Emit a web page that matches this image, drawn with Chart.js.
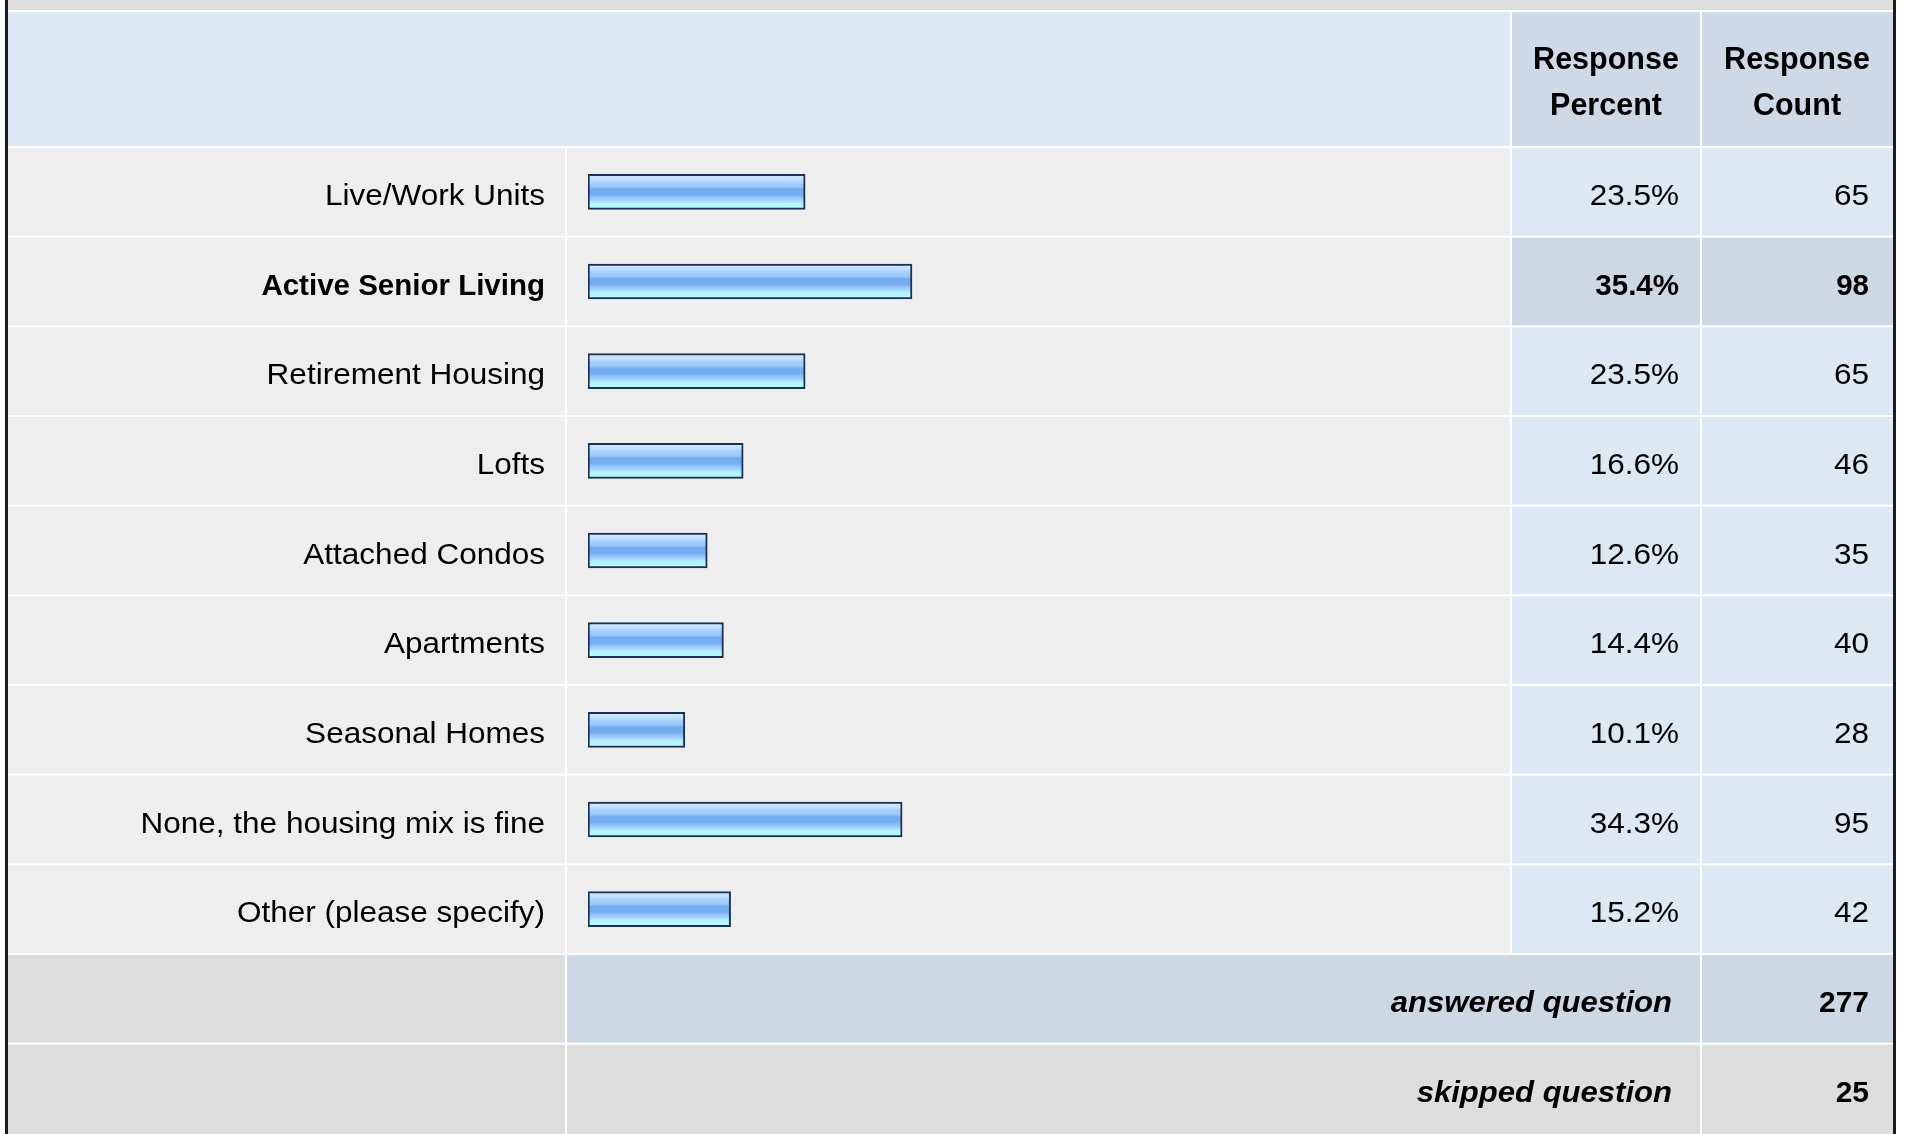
<!DOCTYPE html>
<html>
<head>
<meta charset="utf-8">
<script src="https://cdn.jsdelivr.net/npm/chart.js@4.4.1/dist/chart.umd.min.js"></script>
<style>
  html, body { margin: 0; padding: 0; background: #fff; }
  #wrap { width: 1907px; height: 1134px; position: relative; }
</style>
</head>
<body>
<div id="wrap"><canvas id="chart"></canvas></div>
<script>
// Datos de la encuesta
const answers = [
  "Live/Work Units",
  "Active Senior Living",
  "Retirement Housing",
  "Lofts",
  "Attached Condos",
  "Apartments",
  "Seasonal Homes",
  "None, the housing mix is fine",
  "Other (please specify)",
];
const percents = [23.5, 35.4, 23.5, 16.6, 12.6, 14.4, 10.1, 34.3, 15.2];
const counts = [65, 98, 65, 46, 35, 40, 28, 95, 42];
const headerPercent = ["Response", "Percent"];
const headerCount = ["Response", "Count"];
const answeredCount = 277;
const skippedCount = 25;

// La fila con más respuestas va resaltada
const topIndex = percents.indexOf(Math.max(...percents));

const FONT = '"Liberation Sans", Arial, sans-serif';
const BAR_H = 35;
// la barra de SurveyMonkey arranca con unos px extra
const X_MIN = -0.68;
const X_MAX = 101.77;
// bordes de columnas de la tabla
const COL = { left: 8, label: 566, bar: 1511, pct: 1701, right: 1893 };

function barGradient(context) {
  const chart = context.chart;
  const yScale = chart.scales.y;
  if (!chart.chartArea || !yScale) return "#98c6fb";
  const c = yScale.getPixelForValue(context.dataIndex);
  if (!isFinite(c)) return "#98c6fb";
  const g = chart.ctx.createLinearGradient(0, c - BAR_H / 2, 0, c + BAR_H / 2);
  g.addColorStop(0, "#d2e9ff");
  g.addColorStop(0.14, "#c3e1ff");
  g.addColorStop(0.22, "#a9d3ff");
  g.addColorStop(0.36, "#98c7fc");
  g.addColorStop(0.42, "#74acf0");
  g.addColorStop(0.58, "#74acf0");
  g.addColorStop(0.64, "#8dc0f8");
  g.addColorStop(0.74, "#a5d6ff");
  g.addColorStop(0.82, "#b4f2ff");
  g.addColorStop(1, "#bbfcff");
  return g;
}

const tablePlugin = {
  id: "surveyTable",
  beforeDraw(chart) {
    const { ctx, chartArea, scales } = chart;
    const y = scales.y;
    const rowH = (chartArea.bottom - chartArea.top) / answers.length;
    const headTop = 11;

    const cell = (x0, x1, y0, y1, color) => {
      ctx.fillStyle = color;
      ctx.fillRect(x0 + 1, y0 + 1, x1 - x0 - 2, y1 - y0 - 2);
    };
    // el texto original sale un poco ensanchado
    const text = (str, x, yc, align, weight, size, stretch) => {
      ctx.save();
      ctx.font = `${weight || "normal"} ${size || 30}px ${FONT}`;
      ctx.textAlign = align;
      ctx.translate(x, yc);
      ctx.scale(stretch || 1, 1);
      ctx.fillText(str, 0, 0);
      ctx.restore();
    };

    ctx.save();
    ctx.fillStyle = "#ffffff";
    ctx.fillRect(0, 0, chart.width, chart.height);

    // banda gris superior
    ctx.fillStyle = "#dddddd";
    ctx.fillRect(COL.left, 0, COL.right - COL.left, 10);

    // encabezado
    cell(COL.left - 1, COL.bar, headTop, chartArea.top, "#dde8f5");
    cell(COL.bar, COL.pct, headTop, chartArea.top, "#cdd9e6");
    cell(COL.pct, COL.right + 1, headTop, chartArea.top, "#cdd9e6");

    // filas de respuestas
    answers.forEach((label, i) => {
      const c = y.getPixelForValue(i);
      const y0 = c - rowH / 2;
      const y1 = c + rowH / 2;
      const numColor = i === topIndex ? "#cdd8e5" : "#dde8f5";
      cell(COL.left - 1, COL.label, y0, y1, "#eeeeee");
      cell(COL.label, COL.bar, y0, y1, "#eeeeee");
      cell(COL.bar, COL.pct, y0, y1, numColor);
      cell(COL.pct, COL.right + 1, y0, y1, numColor);
    });

    // pie: respondidas / omitidas
    const f0 = chartArea.bottom;
    const f1 = f0 + rowH;
    const f2 = f1 + rowH;
    cell(COL.left - 1, COL.label, f0, f1, "#dddddd");
    cell(COL.label, COL.pct, f0, f1, "#cdd8e5");
    cell(COL.pct, COL.right + 1, f0, f1, "#cdd8e5");
    cell(COL.left - 1, COL.label, f1, f2 + 4, "#dddddd");
    cell(COL.label, COL.pct, f1, f2 + 4, "#dddddd");
    cell(COL.pct, COL.right + 1, f1, f2 + 4, "#dddddd");

    // bordes oscuros laterales
    ctx.fillStyle = "#1c1c1c";
    ctx.fillRect(COL.left - 3, 0, 3, chart.height);
    ctx.fillRect(COL.right, 0, 3, chart.height);

    // textos
    ctx.fillStyle = "#000000";
    ctx.textBaseline = "middle";
    const pctX = (COL.bar + COL.pct) / 2;
    const cntX = (COL.pct + COL.right) / 2;
    const hMid = (headTop + chartArea.top) / 2;
    text(headerPercent[0], pctX, hMid - 18, "center", "bold", 30.5);
    text(headerPercent[1], pctX, hMid + 28, "center", "bold", 30.5);
    text(headerCount[0], cntX, hMid - 18, "center", "bold", 30.5);
    text(headerCount[1], cntX, hMid + 28, "center", "bold", 30.5);

    answers.forEach((label, i) => {
      const c = y.getPixelForValue(i) + 5;
      const bold = i === topIndex;
      const w = bold ? "bold" : "normal";
      const size = bold ? 29.5 : 30;
      const st = bold ? 1 : 1.05;
      text(label, COL.label - 21, c, "right", w, size, st);
      text(percents[i].toFixed(1) + "%", COL.pct - 22, c, "right", w, size, st);
      text(String(counts[i]), COL.right - 24, c, "right", w, size, st);
    });

    text("answered question", COL.pct - 29, (f0 + f1) / 2 + 5, "right", "italic bold", 30, 1.035);
    text(String(answeredCount), COL.right - 24, (f0 + f1) / 2 + 5, "right", "bold", 30);
    text("skipped question", COL.pct - 29, (f1 + f2) / 2 + 5, "right", "italic bold", 30, 1.035);
    text(String(skippedCount), COL.right - 24, (f1 + f2) / 2 + 5, "right", "bold", 30);

    ctx.restore();
  },
};

new Chart(document.getElementById("chart"), {
  type: "bar",
  data: {
    labels: answers,
    datasets: [
      {
        label: "Response Percent",
        data: percents,
        base: X_MIN,
        backgroundColor: barGradient,
        borderColor: "#1c3152",
        borderWidth: 2,
        borderSkipped: false,
        barThickness: BAR_H,
      },
    ],
  },
  options: {
    indexAxis: "y",
    responsive: true,
    maintainAspectRatio: false,
    animation: false,
    events: [],
    layout: { padding: { left: 588, right: 399, top: 147, bottom: 180 } },
    plugins: { legend: { display: false }, tooltip: { enabled: false } },
    scales: {
      x: { display: false, min: X_MIN, max: X_MAX },
      y: { display: false, offset: true },
    },
  },
  plugins: [tablePlugin],
});
</script>
</body>
</html>
